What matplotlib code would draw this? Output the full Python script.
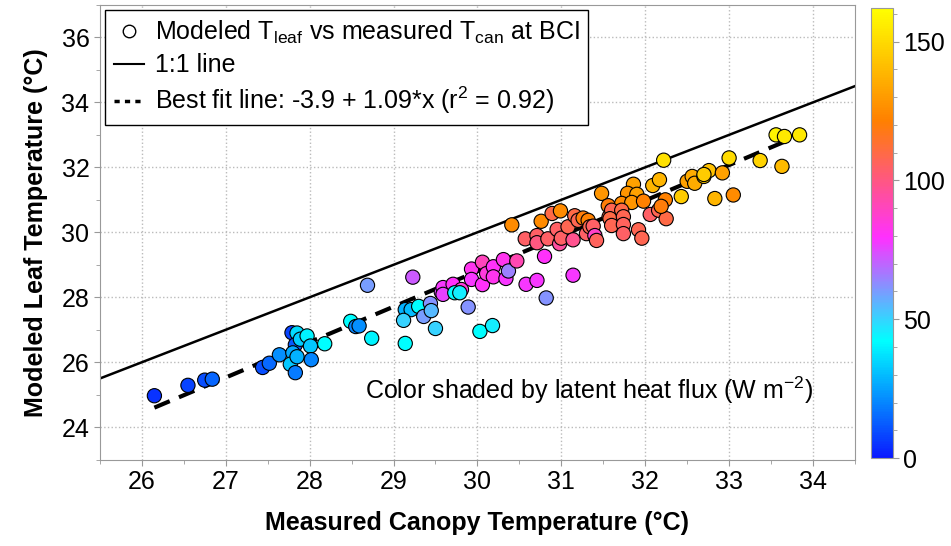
import numpy as np
import matplotlib
matplotlib.use("Agg")
import matplotlib.pyplot as plt
from matplotlib.colors import LinearSegmentedColormap
from matplotlib.lines import Line2D

plt.rcParams['font.family'] = ['Liberation Sans', 'DejaVu Sans']
plt.rcParams['mathtext.fontset'] = 'custom'
plt.rcParams['mathtext.rm'] = 'Liberation Sans'
plt.rcParams['mathtext.it'] = 'Liberation Sans:italic'

# measured canopy temperature (x), modeled leaf temperature (y), latent heat flux (colour)
t_can = [26.15, 26.55, 26.75, 26.84, 27.44, 27.52, 27.64, 27.79, 27.85, 27.83,
         27.80, 27.77, 27.83, 27.85, 27.89, 27.97, 28.01, 28.02, 28.18, 28.49,
         28.55, 28.59, 28.69, 28.74, 29.23, 29.14, 29.21, 29.12, 29.14, 29.30,
         29.36, 29.44, 29.45, 29.50, 29.57, 29.59, 29.71, 29.59, 29.81, 29.73,
         29.79, 29.89, 29.93, 30.03, 30.18, 29.93, 30.06, 30.06, 30.11, 30.19,
         30.19, 30.31, 30.34, 30.37, 30.47, 30.41, 30.58, 30.71, 30.82, 30.57,
         30.71, 30.71, 30.80, 30.76, 30.89, 30.99, 30.84, 30.95, 30.98, 31.00,
         31.08, 31.14, 31.14, 31.16, 31.20, 31.26, 31.32, 31.30, 31.34, 31.38,
         31.40, 31.42, 31.48, 31.56, 31.57, 32.22, 31.86, 31.79, 31.90, 31.72,
         31.84, 31.98, 32.09, 32.17, 31.60, 31.58, 31.60, 31.72, 31.74, 31.74,
         31.74, 31.92, 31.96, 32.06, 32.16, 32.25, 32.24, 32.19, 32.43, 32.50,
         32.56, 32.59, 32.70, 32.76, 32.83, 33.56, 33.66, 33.84, 33.00, 33.37,
         33.63, 32.70, 32.92, 33.05]
t_leaf = [24.97, 25.29, 25.45, 25.48, 25.84, 25.97, 26.23, 26.91, 26.90, 26.54,
          26.29, 25.94, 25.68, 26.17, 26.71, 26.81, 26.50, 26.08, 26.57, 27.26,
          27.10, 27.12, 28.37, 26.74, 28.62, 27.62, 27.62, 27.29, 26.58, 27.72,
          27.41, 27.81, 27.59, 27.04, 28.16, 28.30, 28.40, 28.09, 28.24, 28.14,
          28.14, 27.70, 28.87, 26.95, 27.13, 28.55, 29.08, 28.39, 28.73, 28.94,
          28.63, 29.16, 28.58, 28.81, 29.12, 30.23, 28.40, 28.52, 27.98, 29.80,
          29.90, 29.68, 29.26, 30.34, 30.58, 30.66, 29.80, 30.09, 29.65, 29.82,
          30.17, 29.77, 28.68, 30.51, 30.37, 30.44, 30.37, 29.96, 30.17, 30.19,
          29.90, 29.75, 31.20, 30.82, 30.48, 32.22, 31.48, 31.20, 31.17, 30.89,
          30.92, 30.96, 31.44, 31.62, 30.68, 30.42, 30.21, 30.68, 30.48, 30.24,
          29.96, 30.08, 29.82, 30.55, 30.68, 30.42, 31.00, 30.80, 31.10, 31.57,
          31.72, 31.51, 31.72, 31.90, 31.04, 33.00, 32.95, 33.00, 32.29, 32.21,
          32.03, 31.78, 31.83, 31.15]
le_flux = [5, 8, 10, 14, 10, 15, 22, 8, 36, 12,
           26, 32, 18, 28, 33, 40, 32, 20, 42, 42,
           20, 22, 60, 40, 72, 28, 30, 50, 42, 42,
           60, 62, 55, 50, 75, 78, 80, 76, 85, 42,
           45, 62, 82, 42, 45, 78, 90, 80, 85, 80,
           82, 82, 78, 65, 92, 125, 78, 78, 62, 105,
           105, 100, 80, 125, 110, 125, 105, 105, 95, 105,
           108, 98, 78, 110, 108, 120, 122, 105, 108, 105,
           88, 106, 128, 120, 108, 152, 132, 128, 132, 125,
           128, 122, 138, 138, 108, 110, 108, 110, 108, 106,
           105, 108, 108, 105, 108, 110, 122, 120, 145, 132,
           135, 135, 145, 142, 138, 158, 155, 155, 150, 148,
           140, 145, 132, 125]

fit_a = -3.9
fit_b = 1.09
flux_max = 162

cmap = LinearSegmentedColormap.from_list(
    'le', [(0.0, '#0a1aff'), (0.26, '#00ffff'), (0.49, '#ff30ff'),
           (0.75, '#ff8000'), (1.0, '#ffff00')])

fig = plt.figure(figsize=(9.51, 5.46), dpi=100)
ax = fig.add_axes([0.105, 0.158, 0.794, 0.833])
cax = fig.add_axes([0.9155, 0.161, 0.0232, 0.824])

grey = '#999999'
ax.grid(True, color='#bbbbbb', linestyle=':', linewidth=1)
ax.set_axisbelow(True)

xline = np.array([25.5, 34.5])
ax.plot(xline, xline, color='black', linewidth=1.8, zorder=2)
xfit = np.array([min(t_can), max(t_can)])
ax.plot(xfit, fit_a + fit_b * xfit, color='black', linewidth=3,
        dashes=(4, 2.4), zorder=2)

sc = ax.scatter(t_can, t_leaf, c=le_flux, cmap=cmap, vmin=0, vmax=flux_max,
                s=105, edgecolors='black', linewidths=0.8, zorder=3)

ax.set_xlim(25.5, 34.5)
ax.set_ylim(23, 37)
ax.set_xticks(np.arange(26, 35, 1))
ax.set_xticks(np.arange(25.5, 34.6, 0.5), minor=True)
ax.set_yticks(np.arange(24, 37, 2))
ax.set_yticks(np.arange(23, 37.1, 1), minor=True)
ax.tick_params(which='both', direction='out', color=grey, labelsize=18, pad=3)
ax.tick_params(which='major', length=4.5)
ax.tick_params(which='minor', length=3)
for s in ax.spines.values():
    s.set_color(grey)

ax.set_xlabel('Measured Canopy Temperature (°C)', fontsize=18, fontweight='bold', labelpad=12)
ax.set_ylabel('Modeled Leaf Temperature (°C)', fontsize=18, fontweight='bold', labelpad=10)

ax.text(34.0, 25.13, 'Color shaded by latent heat flux (W m$^{-2}$)',
        ha='right', va='center', fontsize=18)

handles = [
    Line2D([], [], marker='o', linestyle='none', markerfacecolor='white',
           markeredgecolor='black', markersize=9),
    Line2D([], [], color='black', linewidth=1.5),
    Line2D([], [], color='black', linewidth=2.5, dashes=(1.5, 1.5)),
]
labels = ['Modeled T$_{\\rm leaf}$ vs measured T$_{\\rm can}$ at BCI',
          '1:1 line',
          'Best fit line: -3.9 + 1.09*x (r$^2$ = 0.92)']
leg = ax.legend(handles, labels, loc='upper left', fontsize=18, frameon=True,
                fancybox=False, edgecolor='black', framealpha=1,
                borderpad=0.35, labelspacing=0.3, handlelength=1.2,
                handletextpad=0.45, borderaxespad=0.2)
leg.get_frame().set_linewidth(1.0)

cb = fig.colorbar(sc, cax=cax)
cb.set_ticks([0, 50, 100, 150])
cb.ax.set_yticks(np.arange(10, 161, 10), minor=True)
cb.ax.tick_params(which='both', direction='out', color=grey, labelsize=18, pad=3)
cb.ax.tick_params(which='major', length=4.5)
cb.ax.tick_params(which='minor', length=3)
cb.outline.set_edgecolor(grey)

fig.savefig('out.png', dpi=100)
